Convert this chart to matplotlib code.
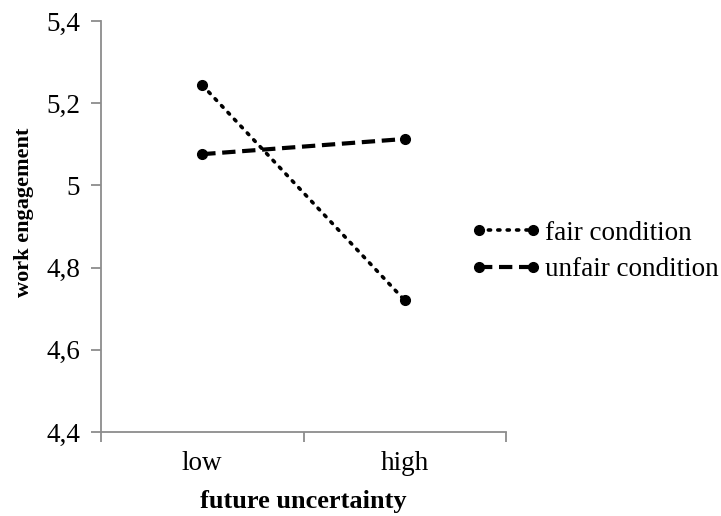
import numpy as np
import matplotlib.pyplot as plt

plt.rcParams['font.family'] = ['Liberation Serif', 'DejaVu Serif']

categories = ['low', 'high']
fair = [5.244, 4.720]
unfair = [5.076, 5.113]
yticks = [4.4, 4.6, 4.8, 5.0, 5.2, 5.4]
ytick_labels = ['4,4', '4,6', '4,8', '5', '5,2', '5,4']

fig = plt.figure(figsize=(7.21, 5.16), dpi=100)
ax = fig.add_axes([0.140, 0.1628, 0.562, 0.7965])

x = np.arange(len(categories)) + 0.5
ax.plot(x, fair, color='black', linestyle=(0, (0.6, 2.0)), lw=2.6,
        dash_capstyle='round', marker='o', markersize=7, label='fair condition')
ax.plot(x, unfair, color='black', linestyle=(0, (3.2, 1.6)), lw=3.0,
        marker='o', markersize=7, label='unfair condition')

ax.set_xlim(0, 2)
ax.set_ylim(4.4, 5.4)
ax.set_yticks(yticks)
ax.set_yticklabels(ytick_labels)
ax.set_xticks([0, 1, 2])
ax.set_xticklabels([])
ax.set_xticks(x, minor=True)
ax.set_xticklabels(categories, minor=True)

for s in ['top', 'right']:
    ax.spines[s].set_visible(False)
for s in ['left', 'bottom']:
    ax.spines[s].set_color('#8c8c8c')
    ax.spines[s].set_linewidth(1.3)
ax.tick_params(axis='both', which='major', color='#8c8c8c', width=1.3, length=7,
               labelsize=19.5)
ax.tick_params(axis='x', which='minor', length=0, labelsize=19.5, pad=14)
ax.tick_params(axis='y', pad=8)

ax.set_xlabel('future uncertainty', fontsize=19, fontweight='bold')
ax.xaxis.set_label_coords(0.5, -0.14)
ax.set_ylabel('work engagement', fontsize=16, fontweight='bold')
ax.yaxis.set_label_coords(-0.165, 0.535)

ax.legend(loc='center left', bbox_to_anchor=(471 / 721, 1 - 251.5 / 516),
          bbox_transform=fig.transFigure, frameon=False,
          numpoints=2, handlelength=2.6, handletextpad=0.15, fontsize=19.5,
          labelspacing=0.42, borderaxespad=0, borderpad=0)

fig.savefig('out.png', dpi=100)
